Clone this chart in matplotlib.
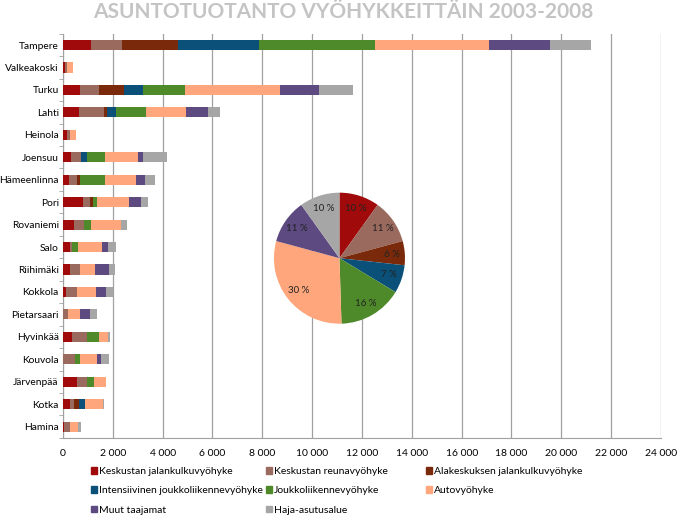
import matplotlib.pyplot as plt
import matplotlib.patches as mpatches
import matplotlib.ticker as mticker
import numpy as np

plt.rcParams['font.family'] = ['Lato', 'DejaVu Sans']

cities = ['Tampere', 'Valkeakoski', 'Turku', 'Lahti', 'Heinola', 'Joensuu',
          'Hämeenlinna', 'Pori', 'Rovaniemi', 'Salo', 'Riihimäki', 'Kokkola',
          'Pietarsaari', 'Hyvinkää', 'Kouvola', 'Järvenpää', 'Kotka', 'Hamina']

zones = ['Keskustan jalankulkuvyöhyke', 'Keskustan reunavyöhyke',
         'Alakeskuksen jalankulkuvyöhyke', 'Intensiivinen joukkoliikennevyöhyke',
         'Joukkoliikennevyöhyke', 'Autovyöhyke', 'Muut taajamat', 'Haja-asutusalue']

colors = ['#A00A0A', '#9A6A5E', '#7A2A0A', '#0A5078', '#4E8A2A', '#FFA67C',
          '#5C4A80', '#A6A6A6']

# dwellings per zone, one list per zone (same order as cities)
keskusta_jk = [1120, 80, 680, 630, 150, 320, 240, 800, 440, 290, 280, 110, 0, 350, 0, 560, 280, 50]
keskusta_reuna = [1240, 70, 750, 1030, 150, 400, 330, 280, 400, 90, 400, 450, 210, 630, 480, 420, 160, 230]
alakeskus = [2270, 0, 1000, 90, 0, 0, 110, 110, 0, 0, 0, 0, 0, 0, 0, 0, 200, 0]
intensiivinen = [3240, 0, 780, 370, 0, 250, 0, 0, 0, 0, 0, 0, 0, 0, 0, 0, 250, 0]
joukkoliikenne = [4650, 0, 1670, 1200, 0, 710, 1000, 160, 270, 240, 0, 0, 0, 460, 200, 270, 0, 0]
autovyohyke = [4590, 240, 3850, 1630, 210, 1320, 1270, 1320, 1230, 950, 590, 760, 480, 360, 670, 480, 710, 330]
muut = [2430, 0, 1540, 870, 0, 200, 330, 470, 0, 240, 590, 400, 400, 0, 190, 0, 0, 0]
haja = [1660, 0, 1380, 480, 0, 960, 400, 270, 210, 330, 210, 290, 280, 70, 310, 0, 60, 110]

series = [keskusta_jk, keskusta_reuna, alakeskus, intensiivinen,
          joukkoliikenne, autovyohyke, muut, haja]

pie_shares = [10, 11, 6, 7, 16, 30, 11, 10]

fig = plt.figure(figsize=(6.8, 5.2), dpi=100)
ax = fig.add_axes([0.0926, 0.158, 0.8794, 0.777])

y = np.arange(len(cities))
left = np.zeros(len(cities))
for vals, col, name in zip(series, colors, zones):
    vals = np.array(vals, dtype=float)
    ax.barh(y, vals, left=left, height=0.45, color=col, label=name, zorder=3)
    left += vals

ax.set_ylim(len(cities) - 0.5, -0.5)
ax.set_xlim(0, 24000)
ax.set_yticks(y)
ax.set_yticklabels(cities, fontsize=7.4)
ax.set_yticks(np.arange(len(cities) + 1) - 0.5, minor=True)
ax.tick_params(axis='y', which='major', length=0, pad=3)
ax.tick_params(axis='y', which='minor', length=3, color='#A0A0A0')
ax.set_xticks(np.arange(0, 24001, 2000))
ax.xaxis.set_major_formatter(mticker.FuncFormatter(lambda v, p: f'{int(v):,}'.replace(',', ' ')))
ax.tick_params(axis='x', length=0, labelsize=7.5, pad=8)
ax.grid(axis='x', color='#A0A0A0', lw=0.9, zorder=0)
for s in ['top', 'right']:
    ax.spines[s].set_visible(False)
for s in ['left', 'bottom']:
    ax.spines[s].set_color('#A0A0A0')

fig.text(0.505, 0.976, 'ASUNTOTUOTANTO VYÖHYKKEITTÄIN 2003-2008', ha='center', va='center',
         fontsize=15, fontweight='bold', color='#C4C4C4')

# pie inset
pax = fig.add_axes([0.3787, 0.346, 0.241, 0.315])
wedges, texts, autotexts = pax.pie(pie_shares, colors=colors, startangle=90, counterclock=False,
                                   autopct=lambda p: f'{p:.0f} %', pctdistance=0.8)
for t, v in zip(autotexts, pie_shares):
    t.set_text(f'{v} %')
    t.set_fontsize(7)
    t.set_color('#222222')
pax.set_aspect('equal')

# legend, filled row by row
handles = [mpatches.Patch(color=c, label=z) for c, z in zip(colors, zones)]
col_x = [0.134, 0.391, 0.626]
for c in range(3):
    h = handles[c::3]
    leg = fig.legend(handles=h, loc='upper left', bbox_to_anchor=(col_x[c], 0.102),
                     frameon=False, fontsize=7.5, handlelength=0.6, handleheight=0.6,
                     handletextpad=0.2, labelspacing=1.0, borderpad=0, borderaxespad=0)

fig.savefig('out.png', dpi=100)
